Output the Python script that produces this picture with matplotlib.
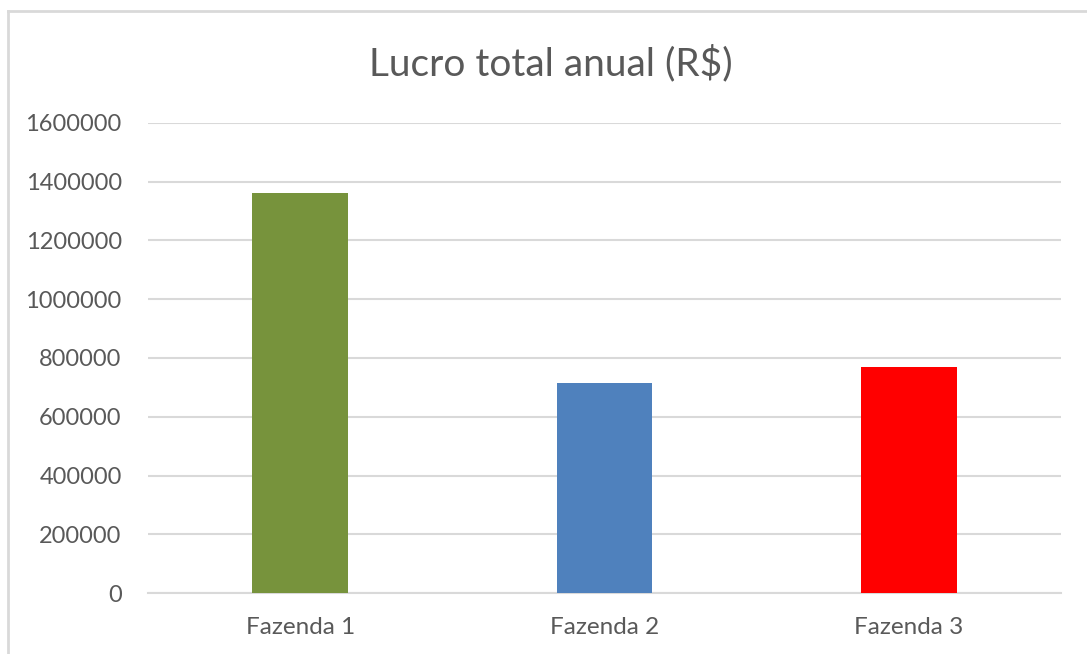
import matplotlib.pyplot as plt
from matplotlib.lines import Line2D

plt.rcParams["font.family"] = ["Lato", "DejaVu Sans"]

farms = ["Fazenda 1", "Fazenda 2", "Fazenda 3"]
profit = [1362000, 714000, 768000]
colors = ["#77933C", "#4F81BD", "#FF0000"]
yticks = [0, 200000, 400000, 600000, 800000, 1000000, 1200000, 1400000, 1600000]

fig = plt.figure(figsize=(10.87, 6.54), dpi=100)
ax = fig.add_axes([0.1362, 0.0928, 0.8399, 0.7196])

ax.bar(range(len(farms)), profit, width=0.315, color=colors, zorder=3)
ax.set_xlim(-0.5, 2.5)
ax.set_ylim(0, 1600000)
ax.set_yticks(yticks)
ax.set_yticklabels([str(v) for v in yticks])
ax.set_xticks(range(len(farms)))
ax.set_xticklabels(farms)
ax.yaxis.grid(True, color="#D9D9D9", linewidth=1.5, zorder=0)
ax.set_axisbelow(True)
for s in ["top", "right", "left"]:
    ax.spines[s].set_visible(False)
ax.spines["bottom"].set_color("#D9D9D9")
ax.spines["bottom"].set_linewidth(1.5)
ax.tick_params(axis="y", length=0, labelsize=17, labelcolor="#595959", pad=19)
ax.tick_params(axis="x", length=0, labelsize=17.5, labelcolor="#595959", pad=17)

fig.text(0.507, 0.903, "Lucro total anual (R$)", ha="center", va="center",
         fontsize=28, color="#595959")

# chart frame (left and top edges visible)
fig.add_artist(Line2D([7.5 / 1087, 7.5 / 1087], [0, 1 - 11 / 654],
                      transform=fig.transFigure, color="#D9D9D9", linewidth=2))
fig.add_artist(Line2D([7.5 / 1087, 1], [1 - 11 / 654, 1 - 11 / 654],
                      transform=fig.transFigure, color="#D9D9D9", linewidth=2))

fig.savefig("out.png", dpi=100)
